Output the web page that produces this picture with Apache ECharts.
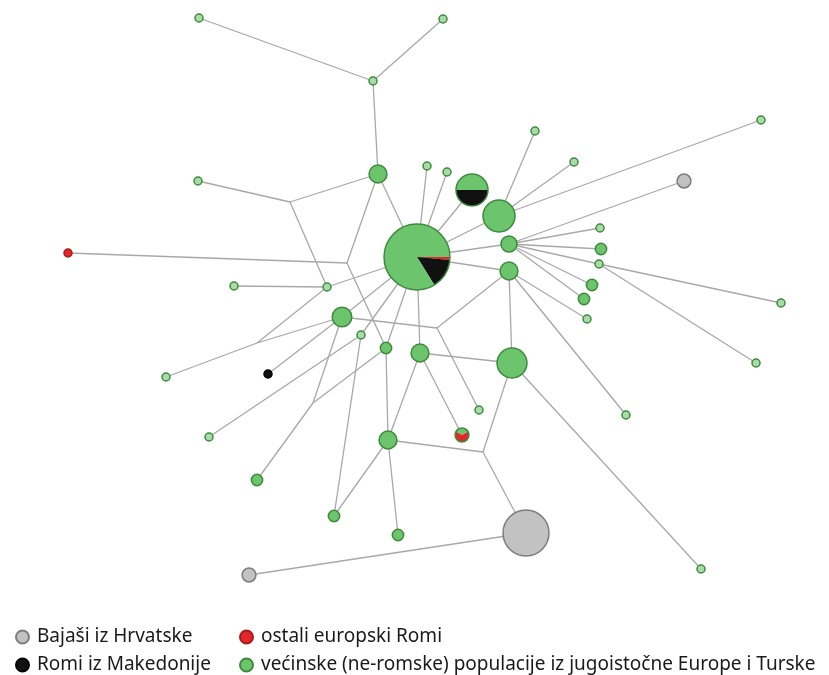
<!DOCTYPE html>
<html>
<head>
<meta charset="utf-8">
<script src="https://cdn.jsdelivr.net/npm/echarts@6/dist/echarts.min.js"></script>
<style>
  html, body { margin: 0; padding: 0; background: #fff; }
  #chart { width: 829px; height: 675px; }
</style>
</head>
<body>
<div id="chart"></div>
<script>
// Haplotype network: node positions in layout units, counts = number of samples
const nodeIds    = ['A','B','C','D','E','R1','F','G','H','I','J','K','BK','L','M','N','O','P','Q','GS','GB','RR','S','T','U','V','W','X','Y','Z','AA','AB','G2','AC','AD','AE','AF','AG','AH','AI','AJ','AK','PB','PH','PR'];
const nodeX      = [199,443,373,378,198,68,327,234,342,361,386,420,268,166,209,388,257,334,398,249,526,701,479,512,509,509,499,427,447,535,574,761,684,600,601,599,592,584,587,781,756,626,417,472,462];
const nodeY      = [18,19,81,174,181,253,287,286,317,335,348,353,374,377,437,440,480,516,535,575,533,569,410,363,271,244,216,166,172,131,162,120,181,228,249,264,285,299,319,303,363,415,257,190,435];
// group: g = majority populations, k = Roma from Macedonia, r = other Roma, b = Bayash from Croatia, p = mixed
const nodeGroup  = ['g','g','g','g','g','r','g','g','g','g','g','g','k','g','g','g','g','g','g','b','b','g','g','g','g','g','g','g','g','g','g','g','b','g','g','g','g','g','g','g','g','g','p','p','p'];
const nodeCount  = [1,1,1,5,1,1,1,1,6,1,2,5,1,1,1,5,2,2,2,3,33,1,1,14,5,4,16,1,1,1,1,1,3,1,2,1,2,2,1,1,1,1,68,16,3];

// Mixed haplotypes: counts per population (majority, Macedonian Roma, other Roma)
const mixedIds   = ['PB','PH','PR'];
const mixedGreen = [57,8,1];
const mixedBlack = [10,8,0];
const mixedRed   = [1,0,2];

// Median vectors (inferred, unsampled)
const medianIds  = ['m1','m2','m3','m4','m5','m6'];
const medianX    = [290,347,437,483,257,313];
const medianY    = [202,263,328,452,343,403];

const edges = [
  ['A','C'],['B','C'],['C','D'],
  ['E','m1'],['m1','D'],['m1','F'],
  ['R1','m2'],['m2','D'],['m2','J'],
  ['D','PB'],['F','PB'],['G','F'],['F','m5'],['L','m5'],['m5','H'],
  ['H','PB'],['BK','H'],['H','m3'],['m3','U'],['m3','S'],
  ['O','m6'],['m6','H'],['m6','J'],
  ['M','I'],['P','I'],['P','N'],['Q','N'],['N','J'],['N','K'],['N','m4'],
  ['m4','T'],['m4','GB'],['GS','GB'],
  ['I','PB'],['J','PB'],['K','PB'],['K','PR'],['K','T'],['T','U'],['T','RR'],
  ['X','PB'],['Y','PB'],['PH','PB'],['W','PB'],['V','PB'],['U','PB'],
  ['Z','W'],['AA','W'],['AB','W'],
  ['G2','V'],['AC','V'],['AD','V'],['AE','V'],['AF','V'],['AG','V'],
  ['AE','AI'],['AE','AJ'],['AH','U'],['AK','U']
];

const groupNames = {
  b: 'Bajaši iz Hrvatske',
  k: 'Romi iz Makedonije',
  r: 'ostali europski Romi',
  g: 'većinske (ne-romske) populacije iz jugoistočne Europe i Turske'
};
const colors = {
  g: { fill: '#6cc46c', stroke: '#3d8a3d', light: '#a9dba9' },
  k: { fill: '#111111', stroke: '#000000' },
  r: { fill: '#e3262b', stroke: '#a51c1c' },
  b: { fill: '#c2c2c2', stroke: '#7d7d7d' }
};

const radiusOf = n => 4 * Math.sqrt(n);

const pos = {};
nodeIds.forEach((id, i) => { pos[id] = [nodeX[i], nodeY[i]]; });
medianIds.forEach((id, i) => { pos[id] = [medianX[i], medianY[i]]; });

const edgeData = edges.map(e => ({ coords: [pos[e[0]], pos[e[1]]] }));

function groupSeries(g) {
  const data = [];
  nodeIds.forEach((id, i) => {
    if (nodeGroup[i] !== g) return;
    const item = { value: [nodeX[i], nodeY[i], nodeCount[i]] };
    // single-sample majority haplotypes are drawn with a paler fill
    if (g === 'g' && nodeCount[i] === 1) item.itemStyle = { color: colors.g.light };
    data.push(item);
  });
  return {
    name: groupNames[g],
    type: 'scatter',
    data: data,
    symbol: 'circle',
    symbolSize: v => 2 * radiusOf(v[2]),
    itemStyle: {
      color: colors[g].fill,
      borderColor: colors[g].stroke,
      borderWidth: 1.5,
      opacity: 1
    },
    emphasis: { disabled: true },
    z: 3
  };
}

const mixedData = mixedIds.map((id, i) => {
  const k = nodeIds.indexOf(id);
  return [nodeX[k], nodeY[k], nodeCount[k], mixedGreen[i], mixedBlack[i], mixedRed[i]];
});

function legendAt(name, left, top) {
  return {
    left: left, top: top, padding: 0,
    icon: 'circle', itemWidth: 13, itemHeight: 13,
    textStyle: { fontFamily: 'Noto Sans', fontSize: 19, color: '#1a1a1a', lineHeight: 22, padding: [0, 0, 0, 3] },
    data: [name],
    selectedMode: false
  };
}

const option = {
  animation: false,
  backgroundColor: '#ffffff',
  grid: { left: 0, right: 0, top: 0, bottom: 0 },
  xAxis: { type: 'value', min: 0, max: 829, show: false },
  yAxis: { type: 'value', min: 0, max: 675, inverse: true, show: false },
  legend: [
    legendAt(groupNames.b, 15, 626),
    legendAt(groupNames.k, 15, 654),
    legendAt(groupNames.r, 239, 626),
    legendAt(groupNames.g, 239, 654)
  ],
  series: [
    {
      type: 'lines',
      coordinateSystem: 'cartesian2d',
      data: edgeData,
      lineStyle: { color: '#a8a8a8', width: 1.3, opacity: 1 },
      silent: true,
      z: 1
    },
    groupSeries('b'),
    groupSeries('k'),
    groupSeries('r'),
    groupSeries('g'),
    {
      type: 'custom',
      coordinateSystem: 'cartesian2d',
      data: mixedData,
      silent: true,
      z: 4,
      renderItem: (params, api) => {
        const c = api.coord([api.value(0), api.value(1)]);
        const r = radiusOf(api.value(2));
        const parts = [
          { n: api.value(5), color: colors.r.fill },
          { n: api.value(4), color: colors.k.fill },
          { n: api.value(3), color: colors.g.fill }
        ];
        const sum = parts.reduce((s, p) => s + p.n, 0);
        // slices run clockwise from 3 o'clock; a red/green node keeps its green slice on top
        let a = (parts[1].n === 0 && parts[0].n > 0) ? -Math.PI / 6 : 0;
        const children = [];
        parts.forEach(p => {
          if (p.n <= 0) return;
          const da = p.n / sum * Math.PI * 2;
          children.push({
            type: 'sector',
            shape: { cx: c[0], cy: c[1], r: r, r0: 0, startAngle: a, endAngle: a + da, clockwise: true },
            style: { fill: p.color, stroke: null }
          });
          a += da;
        });
        children.push({
          type: 'circle',
          shape: { cx: c[0], cy: c[1], r: r },
          style: { fill: null, stroke: colors.g.stroke, lineWidth: 1.5 }
        });
        return { type: 'group', children: children };
      }
    }
  ]
};

const chart = echarts.init(document.getElementById('chart'), null, { renderer: 'canvas' });
chart.setOption(option);
</script>
</body>
</html>
